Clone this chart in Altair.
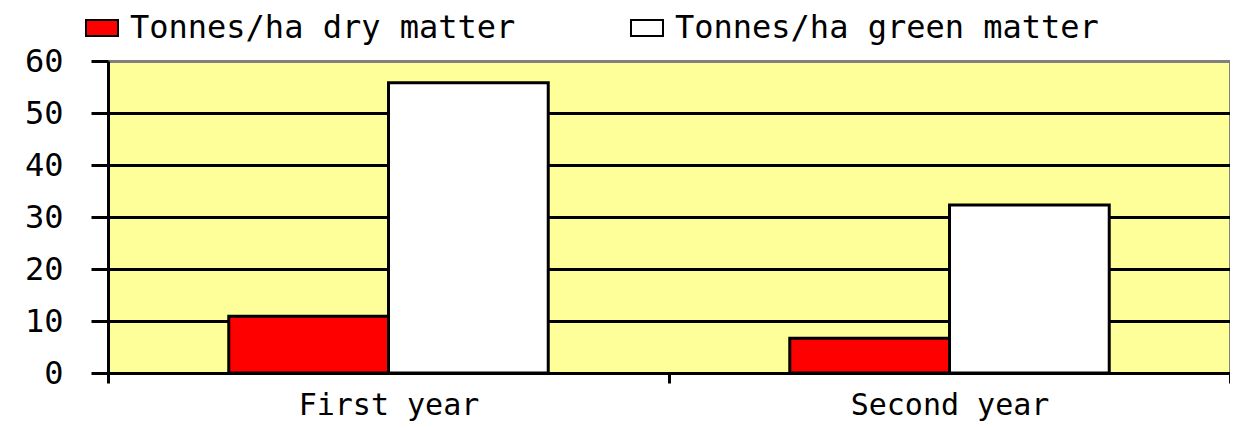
import altair as alt
import pandas as pd

years = ["First year", "Second year"]
series = ["Tonnes/ha dry matter", "Tonnes/ha green matter"]
dry = [10.9, 6.7]
green = [55.8, 32.3]
y_ticks = [0, 10, 20, 30, 40, 50, 60]

rows = []
for i, yr in enumerate(years):
    rows.append({"year": yr, "series": series[0], "value": dry[i]})
    rows.append({"year": yr, "series": series[1], "value": green[i]})
df = pd.DataFrame(rows)

FONT = "DejaVu Sans Mono"

chart = alt.Chart(df).mark_bar(stroke="black", strokeWidth=3).encode(
    x=alt.X(
        "year:N", sort=years, title=None,
        scale=alt.Scale(paddingInner=0, paddingOuter=0),
        axis=alt.Axis(labelAngle=0, tickBand="extent", domainColor="black", domainWidth=3,
                      tickColor="black", tickWidth=3, tickSize=10, labelPadding=7,
                      labelFont=FONT, labelFontSize=30, labelColor="black", labelLimit=0),
    ),
    xOffset=alt.XOffset("series:N", sort=series,
                        scale=alt.Scale(paddingInner=0, paddingOuter=0.756)),
    y=alt.Y(
        "value:Q", title=None, scale=alt.Scale(domain=[0, 60], nice=False),
        axis=alt.Axis(values=y_ticks, grid=True,
                      gridColor=alt.condition("datum.value === 60", alt.value("#808080"), alt.value("black")),
                      gridWidth=3, domainColor="black", domainWidth=3,
                      tickColor="black", tickWidth=3, tickSize=17, labelPadding=28,
                      labelFont=FONT, labelFontSize=32, labelColor="black"),
    ),
    color=alt.Color(
        "series:N", sort=series,
        scale=alt.Scale(domain=series, range=["#FF0000", "#FFFFFF"]),
        legend=alt.Legend(title=None, orient="none", legendX=-23, legendY=-50,
                          direction="horizontal",
                          symbolType="M-1,-0.5H1V0.5H-1Z", symbolSize=1024,
                          symbolStrokeColor="black", symbolStrokeWidth=2, symbolOpacity=1,
                          labelFont=FONT, labelFontSize=32, labelColor="black", labelLimit=0,
                          labelOffset=11, columnPadding=111, padding=0),
    ),
).properties(
    width=1122, height=312,
    autosize="none",
    background="white",
    padding={"left": 100, "top": 53, "right": 0, "bottom": 50},
).configure_view(
    fill="#FFFF99", stroke="#808080", strokeWidth=2
)

chart.save("out.html", embed_options={"renderer": "svg", "actions": False})
